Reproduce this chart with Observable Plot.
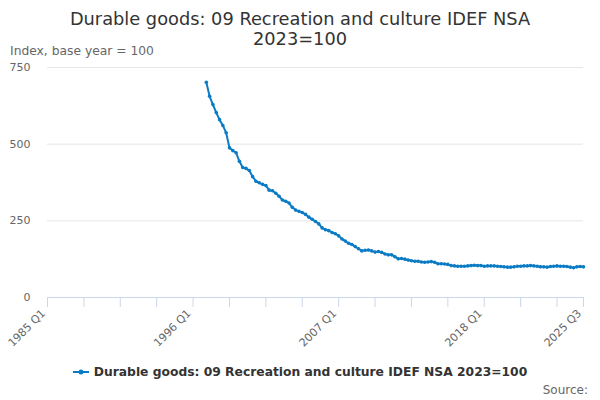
<!DOCTYPE html>
<html>
<head>
<meta charset="utf-8">
<script src="https://cdn.jsdelivr.net/npm/d3@7"></script>
<script src="https://cdn.jsdelivr.net/npm/@observablehq/plot@0.6"></script>
<style>
  html, body { margin: 0; padding: 0; background: #fff; }
  #wrap { position: relative; width: 600px; height: 400px; font-family: "DejaVu Sans", sans-serif; overflow: hidden; }
  #title { position: absolute; left: 0; top: 9px; width: 600px; text-align: center; font-size: 17.8px; line-height: 20px; color: #333; }
  #subtitle { position: absolute; left: 10px; top: 44px; font-size: 12.3px; color: #666; }
  #chart { position: absolute; left: 0; top: 60px; }
  #legend { position: absolute; left: 0; top: 365px; width: 600px; display: flex; justify-content: center; align-items: center; font-size: 12.3px; font-weight: bold; color: #333; }
  #legend svg { margin-right: 5px; }
  #source { position: absolute; right: 12px; top: 383px; font-size: 12px; color: #666; }
</style>
</head>
<body>
<div id="wrap">
  <div id="title">Durable goods: 09 Recreation and culture IDEF NSA<br>2023=100</div>
  <div id="subtitle">Index, base year = 100</div>
  <div id="chart"></div>
  <div id="legend"></div>
  <div id="source">Source:</div>
</div>
<script>
// ---- data ----
const seriesName = "Durable goods: 09 Recreation and culture IDEF NSA 2023=100";
const axisStartYear = 1985, axisStartQ = 1;   // 1985 Q1
const axisEndYear = 2025, axisEndQ = 3;       // 2025 Q3
const dataStartYear = 1997, dataStartQ = 1;   // first observation 1997 Q1
const values = [
  702, 656, 629, 603, 580, 561, 537, 488, 479, 472,
  444, 424, 421, 414, 394, 379, 374, 369, 365, 350,
  348, 340, 330, 318, 314, 308, 294, 285, 281, 277,
  271, 262, 255, 248, 240, 227, 221, 218, 212, 208,
  201, 191, 184, 177, 173, 166, 159, 152, 154, 155,
  152, 148, 150, 147, 142, 139, 139, 133, 126, 127,
  125, 122, 120, 118, 118, 116, 115, 116, 117, 115,
  110, 110, 109, 108, 104, 103, 102, 102, 102, 103,
  104, 105, 104, 104, 102, 103, 103, 103, 102, 101,
  100, 99, 99, 100, 102, 102, 103, 103, 104, 103,
  102, 100, 100, 99, 101, 102, 103, 102, 102, 101,
  99, 97, 100, 101, 100
];
const yTicks = [0, 250, 500, 750];
const yGrid = [250, 500, 750];
const xTickLabels = ["1985 Q1", "1996 Q1", "2007 Q1", "2018 Q1", "2025 Q3"];
const xTickEvery = 11;

// ---- build categories ----
const quarters = [];
for (let y = axisStartYear, q = axisStartQ; y < axisEndYear || (y === axisEndYear && q <= axisEndQ); ) {
  quarters.push(`${y} Q${q}`);
  q++; if (q > 4) { q = 1; y++; }
}
const startIdx = quarters.indexOf(`${dataStartYear} Q${dataStartQ}`);
const data = values.map((v, i) => ({ quarter: quarters[startIdx + i], value: v }));
const xTicks = quarters.filter((d, i) => i % xTickEvery === 0);
if (!xTicks.includes(quarters[quarters.length - 1])) xTicks.push(quarters[quarters.length - 1]);

const color = "#0a7bc4";

const chart = Plot.plot({
  width: 600,
  height: 295,
  marginTop: 7,
  marginBottom: 58,
  marginLeft: 47,
  marginRight: 17,
  style: { fontFamily: "DejaVu Sans, sans-serif", background: "white", overflow: "visible" },
  x: { type: "point", domain: quarters, padding: 0 },
  y: { domain: [0, 750] },
  marks: [
    Plot.gridY(yGrid, { stroke: "#e6e6e6", strokeOpacity: 1 }),
    Plot.axisY(yTicks, { tickSize: 0, tickPadding: 17, fill: "#666", fontSize: 11, label: null }),
    Plot.ruleY([0], { stroke: "#ccd6eb" }),
    Plot.axisX(xTicks, {
      tickSize: 10, stroke: "#ccd6eb", label: null, tickFormat: () => ""
    }),
    Plot.axisX(xTicks, {
      tickSize: 0, tickPadding: 14, fill: "#666", fontSize: 11,
      tickRotate: -45, label: null, dx: -4,
      tickFormat: d => xTickLabels.includes(d) ? d : ""
    }),
    Plot.line(data, { x: "quarter", y: "value", stroke: color, strokeWidth: 2 }),
    Plot.dot(data, { x: "quarter", y: "value", fill: color, r: 1.8, symbol: "circle" })
  ]
});
document.getElementById("chart").appendChild(chart);

// legend
const leg = document.getElementById("legend");
leg.innerHTML = `<svg width="16" height="10"><line x1="0" x2="16" y1="5" y2="5" stroke="${color}" stroke-width="2"/><circle cx="8" cy="5" r="2.5" fill="${color}"/></svg><span>${seriesName}</span>`;
</script>
</body>
</html>
